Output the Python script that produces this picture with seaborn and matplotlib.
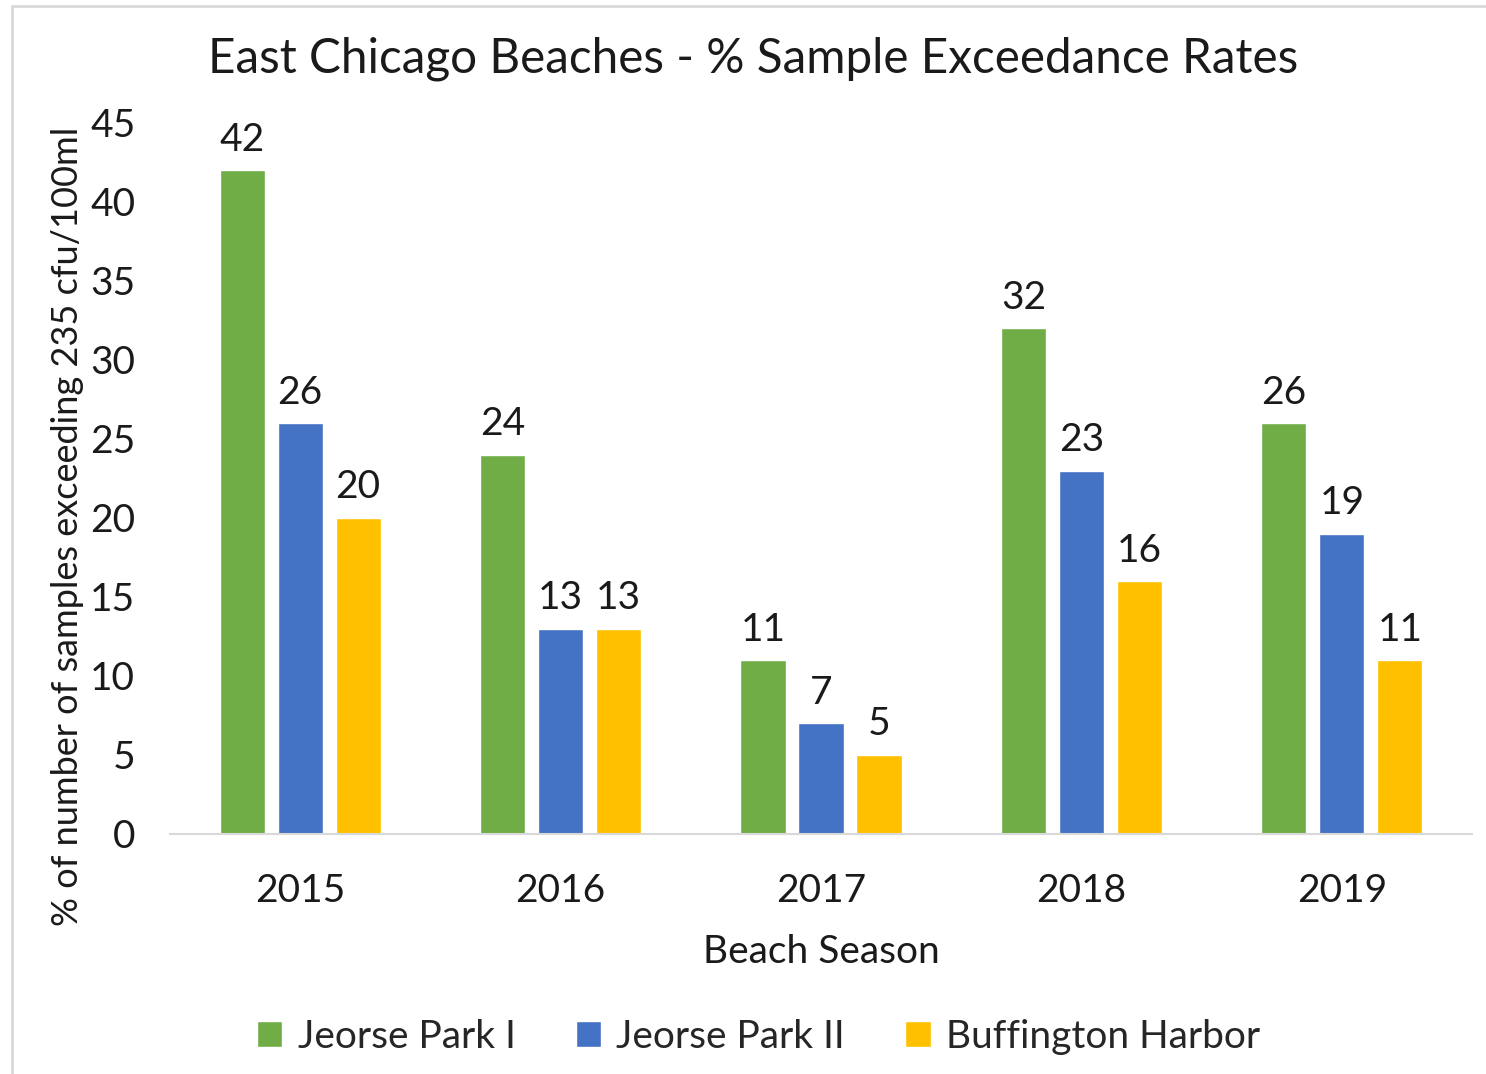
import pandas as pd
import seaborn as sns
import matplotlib.pyplot as plt
from matplotlib.patches import Rectangle

# data
years = ['2015', '2016', '2017', '2018', '2019']
jeorse_1 = [42, 24, 11, 32, 26]
jeorse_2 = [26, 13, 7, 23, 19]
buffington = [20, 13, 5, 16, 11]
series = ['Jeorse Park I', 'Jeorse Park II', 'Buffington Harbor']
colors = ['#70AD47', '#4472C4', '#FFC000']

df = pd.DataFrame({
    'Year': years * 3,
    'Site': [s for s in series for _ in years],
    'Value': jeorse_1 + jeorse_2 + buffington,
})

sns.set_style('white')
plt.rcParams['font.family'] = ['Lato', 'DejaVu Sans']

fig = plt.figure(figsize=(14.86, 10.74), dpi=100)
ax = fig.add_axes([0.1144, 0.2235, 0.8762, 0.662])

sns.barplot(data=df, x='Year', y='Value', hue='Site', palette=colors,
            saturation=1, width=0.668, gap=0.22, ax=ax, legend=True)

for c in ax.containers:
    ax.bar_label(c, fmt='%d', padding=9, fontsize=28, color='#1a1a1a')

ax.set_ylim(0, 45)
ax.set_xlim(-0.5, 4.5)
ax.set_yticks(range(0, 46, 5))
ax.tick_params(axis='y', labelsize=28, length=0, pad=25, colors='#1a1a1a')
ax.tick_params(axis='x', labelsize=28, length=0, pad=28, colors='#1a1a1a')
for s in ['top', 'right', 'left']:
    ax.spines[s].set_visible(False)
ax.spines['bottom'].set_color('#D9D9D9')
ax.spines['bottom'].set_linewidth(1.5)

ax.set_xlabel('Beach Season', fontsize=28, labelpad=18, color='#1a1a1a')
ax.set_ylabel('% of number of samples exceeding 235 cfu/100ml', fontsize=26,
              color='#1a1a1a')
ax.yaxis.set_label_coords(-0.066, 0.432)

ax.legend(loc='center', bbox_to_anchor=(0.452, -0.285), ncol=3, frameon=False,
          fontsize=28, handlelength=0.65, handleheight=0.65, handletextpad=0.4,
          columnspacing=1.55)

fig.text(0.507, 0.945, 'East Chicago Beaches - % Sample Exceedance Rates',
         ha='center', va='center', fontsize=34.3, color='#1a1a1a')

# chart border
fig.patches.append(Rectangle((12 / 1486, -0.01), 1.1, 1.01 - 6 / 1074,
                             transform=fig.transFigure, fill=False,
                             edgecolor='#D9D9D9', linewidth=2))

fig.savefig('out.png', dpi=100)
